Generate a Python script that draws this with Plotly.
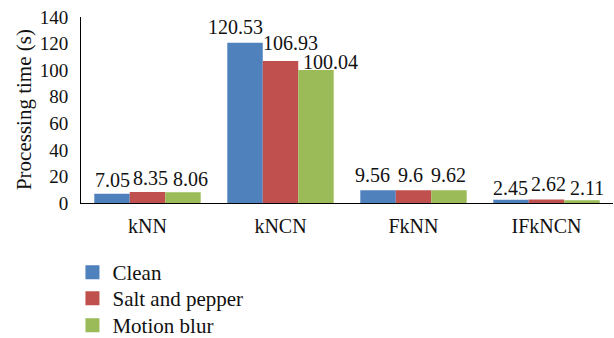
import plotly.graph_objects as go

# Processing time per classifier under three noise conditions
classifiers = ["kNN", "kNCN", "FkNN", "IFkNCN"]
clean = [7.05, 120.53, 9.56, 2.45]
salt_and_pepper = [8.35, 106.93, 9.6, 2.62]
motion_blur = [8.06, 100.04, 9.62, 2.11]
y_ticks = [0, 20, 40, 60, 80, 100, 120, 140]

series_names = ["Clean", "Salt and pepper", "Motion blur"]
series_values = [clean, salt_and_pepper, motion_blur]
series_colors = ["#4F81BD", "#C0504D", "#9BBB59"]

# Nudges (pixels) that keep neighbouring value labels from colliding
label_dx = [[0, 3, 8], [-10, 10, 15], [-6, -3, 0], [-1, 2, 5]]
label_dy = [[1, 1, 0], [3, 5, -5], [2, 2, 2], [-1, 3, -1]]

# Top edge (px from the top) of each legend row
legend_tops = [252, 278, 305]

FONT = "Liberation Serif"
TEXT = "#111111"
BARGAP = 0.2

fig = go.Figure()
legend_layouts = {}
for k, (name, values, color) in enumerate(zip(series_names, series_values, series_colors)):
    legend_id = "legend" if k == 0 else f"legend{k + 1}"
    fig.add_trace(go.Bar(
        name=name,
        x=classifiers,
        y=values,
        marker=dict(color=color, line=dict(width=0)),
        showlegend=False,
    ))
    # legend entry with a slightly larger square swatch
    fig.add_trace(go.Scatter(
        name=name,
        x=[None],
        y=[None],
        mode="markers",
        marker=dict(symbol="square", size=14, color=color, line=dict(width=0)),
        showlegend=True,
        legend=legend_id,
    ))
    legend_layouts[legend_id] = dict(
        xref="container",
        yref="container",
        x=0.118,
        y=1 - legend_tops[k] / 338,
        xanchor="left",
        yanchor="top",
        font=dict(family=FONT, size=21, color=TEXT),
        itemwidth=30,
        itemsizing="trace",
        bgcolor="rgba(0,0,0,0)",
    )

# Value labels above every bar
n = len(series_values)
slot = (1 - BARGAP) / n
for j, values in enumerate(series_values):
    for i, v in enumerate(values):
        fig.add_annotation(
            x=i + (j - (n - 1) / 2) * slot,
            y=v,
            xref="x", yref="y",
            text=f"{v:g}",
            showarrow=False,
            xanchor="center", yanchor="bottom",
            xshift=label_dx[i][j],
            yshift=label_dy[i][j],
            font=dict(family=FONT, size=20, color=TEXT),
        )

# Rotated y-axis title left of the tick labels
fig.add_annotation(
    text="Processing time (s)",
    xref="paper", yref="paper",
    x=-0.107, y=0.5,
    xanchor="center", yanchor="middle",
    textangle=-90,
    showarrow=False,
    font=dict(family=FONT, size=21, color=TEXT),
)

fig.update_layout(
    width=614,
    height=338,
    margin=dict(l=81, r=1, t=17, b=135, autoexpand=False),
    paper_bgcolor="white",
    plot_bgcolor="white",
    barmode="group",
    bargap=BARGAP,
    bargroupgap=0,
    font=dict(family=FONT, size=19, color=TEXT),
    showlegend=True,
    xaxis=dict(
        showline=True,
        linecolor="black",
        linewidth=1,
        ticks="",
        showgrid=False,
        tickfont=dict(family=FONT, size=20, color=TEXT),
        ticklabelstandoff=5,
    ),
    yaxis=dict(
        range=[0, 140],
        tickvals=y_ticks,
        showline=True,
        linecolor="black",
        linewidth=1,
        ticks="",
        showgrid=False,
        zeroline=False,
        tickfont=dict(family=FONT, size=19, color=TEXT),
        ticklabelstandoff=8,
    ),
    **legend_layouts,
)

fig.write_html("out.html")
